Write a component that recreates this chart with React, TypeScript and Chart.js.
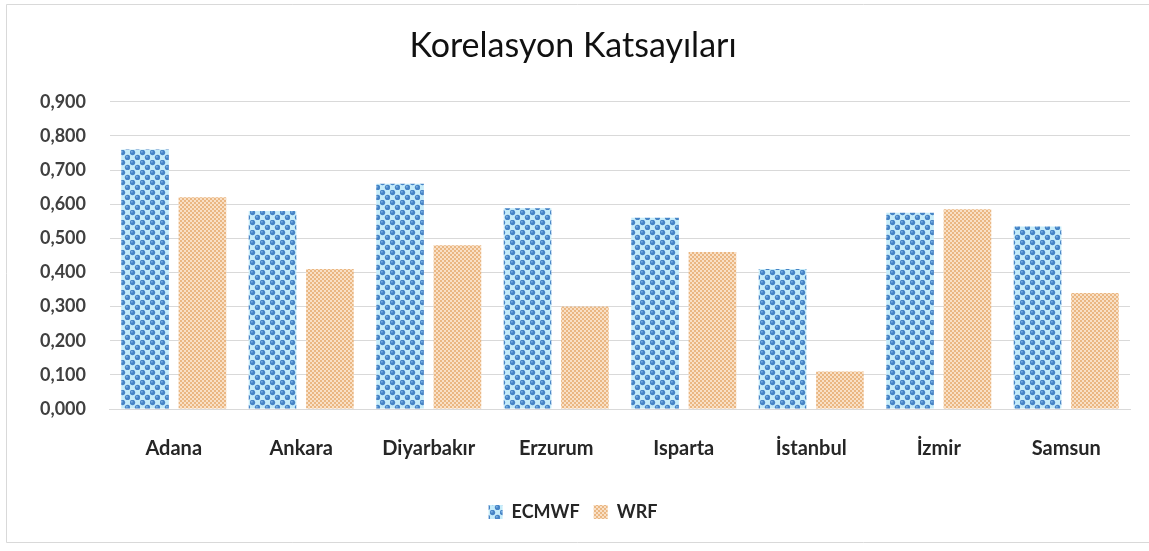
import React, { useEffect, useRef } from "react";
import { Chart, registerables } from "chart.js";

Chart.register(...registerables);

const categories = ["Adana", "Ankara", "Diyarbakır", "Erzurum", "Isparta", "İstanbul", "İzmir", "Samsun"];
const ecmwfValues = [0.76, 0.58, 0.66, 0.588, 0.56, 0.41, 0.575, 0.535];
const wrfValues = [0.62, 0.41, 0.48, 0.30, 0.46, 0.11, 0.585, 0.34];
const seriesNames = ["ECMWF", "WRF"];
const chartTitle = "Korelasyon Katsayıları";

function makeBluePattern(ctx: CanvasRenderingContext2D) {
  const c = document.createElement("canvas");
  c.width = 10;
  c.height = 10;
  const g = c.getContext("2d")!;
  g.fillStyle = "#c6ecfa";
  g.fillRect(0, 0, 10, 10);
  const dots = [[2.5, 2.5], [7.5, 7.5]];
  for (const [x, y] of dots) {
    g.beginPath();
    g.arc(x, y, 2.7, 0, Math.PI * 2);
    g.fillStyle = "#4684c6";
    g.fill();
    g.beginPath();
    g.arc(x - 0.7, y - 0.7, 1, 0, Math.PI * 2);
    g.fillStyle = "#7ab0e2";
    g.fill();
  }
  return ctx.createPattern(c, "repeat")!;
}

function makeTanPattern(ctx: CanvasRenderingContext2D) {
  const c = document.createElement("canvas");
  c.width = 4;
  c.height = 4;
  const g = c.getContext("2d")!;
  g.fillStyle = "#f9e0c6";
  g.fillRect(0, 0, 4, 4);
  g.fillStyle = "#eab783";
  g.fillRect(0, 0, 2, 2);
  g.fillRect(2, 2, 2, 2);
  return ctx.createPattern(c, "repeat")!;
}

const frame = {
  id: "frame",
  beforeDraw(chart: any) {
    const { ctx, width } = chart;
    ctx.save();
    ctx.fillStyle = "#ffffff";
    ctx.fillRect(0, 0, width, chart.height);
    ctx.strokeStyle = "#d9d9d9";
    ctx.lineWidth = 1;
    ctx.beginPath();
    ctx.moveTo(width, 4.5);
    ctx.lineTo(6.5, 4.5);
    ctx.lineTo(6.5, 542.5);
    ctx.lineTo(width, 542.5);
    ctx.stroke();
    ctx.restore();
  },
};

export default function App() {
  const ref = useRef<HTMLCanvasElement>(null);
  useEffect(() => {
    document.body.style.margin = "0";
    const canvas = ref.current!;
    const ctx = canvas.getContext("2d")!;
    const blue = makeBluePattern(ctx);
    const tan = makeTanPattern(ctx);
    const chart = new Chart(canvas, {
      type: "bar",
      data: {
        labels: categories,
        datasets: [
          { label: seriesNames[0], data: ecmwfValues, backgroundColor: blue, borderWidth: 0 },
          { label: seriesNames[1], data: wrfValues, backgroundColor: tan, borderWidth: 0 },
        ],
      },
      options: {
        animation: false,
        responsive: false,
        layout: { padding: { left: 16, right: 19, top: 18, bottom: 20 } },
        datasets: {
          bar: { categoryPercentage: 0.9, barPercentage: 0.83 },
        },
        plugins: {
          title: {
            display: true,
            text: chartTitle,
            color: "#111111",
            font: { family: "Lato", size: 34, weight: "normal" },
            padding: { top: 8, bottom: 35 },
          },
          legend: {
            position: "bottom",
            labels: {
              color: "#262626",
              font: { family: "Lato", size: 18, weight: "bold" },
              boxWidth: 14,
              boxHeight: 14,
              padding: 14,
            },
          },
          tooltip: { enabled: false },
        },
        scales: {
          x: {
            grid: { display: false, drawTicks: false },
            border: { color: "#d9d9d9" },
            ticks: {
              color: "#262626",
              font: { family: "Lato", size: 20, weight: "bold" },
              padding: 28,
            },
          },
          y: {
            min: 0,
            max: 0.9,
            grid: { color: "#d9d9d9", drawTicks: false },
            border: { display: false },
            ticks: {
              stepSize: 0.1,
              color: "#404040",
              font: { family: "Lato", size: 18, weight: "bold" },
              padding: 24,
              callback: (v: any) => Number(v).toFixed(3).replace(".", ","),
            },
          },
        },
      },
      plugins: [frame],
    });
    return () => chart.destroy();
  }, []);
  return <canvas ref={ref} width={1149} height={551} style={{ display: "block" }} />;
}
